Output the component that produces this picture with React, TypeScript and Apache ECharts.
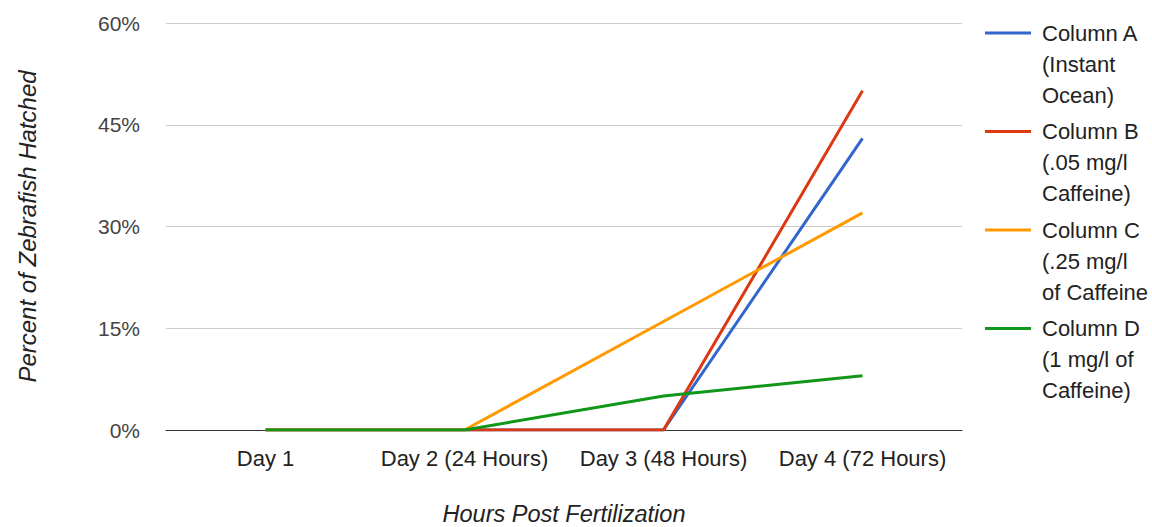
import React, { useEffect, useRef } from "react";
import * as echarts from "echarts";

const categories = ["Day 1", "Day 2 (24 Hours)", "Day 3 (48 Hours)", "Day 4 (72 Hours)"];
const seriesNames = [
  "Column A (Instant Ocean)",
  "Column B (.05 mg/l Caffeine)",
  "Column C (.25 mg/l of Caffeine",
  "Column D (1 mg/l of Caffeine)",
];
const legendLabels = [
  "Column A\n(Instant\nOcean)",
  "Column B\n(.05 mg/l\nCaffeine)",
  "Column C\n(.25 mg/l\nof Caffeine",
  "Column D\n(1 mg/l of\nCaffeine)",
];
const colors = ["#3366cc", "#dc3912", "#ff9900", "#109618"];
const columnA = [0, 0, 0, 43];
const columnB = [0, 0, 0, 50];
const columnC = [0, 0, 16, 32];
const columnD = [0, 0, 5, 8];
const seriesValues = [columnA, columnB, columnC, columnD];
const yTicks = [0, 15, 30, 45, 60];

const FONT = "'Liberation Sans', Arial, sans-serif";

export default function App() {
  const ref = useRef<HTMLDivElement>(null);
  useEffect(() => {
    if (!ref.current) return;
    const chart = echarts.init(ref.current, null, { renderer: "svg" });
    const legendGraphics: any[] = [];
    legendLabels.forEach((label, i) => {
      const y0 = 33 + i * 98.5;
      legendGraphics.push({
        type: "line",
        shape: { x1: 985, y1: y0, x2: 1031, y2: y0 },
        style: { stroke: colors[i], lineWidth: 3 },
      });
      legendGraphics.push({
        type: "text",
        x: 1042,
        y: y0 - 15.5,
        style: {
          text: label,
          fill: "#222",
          font: `22px ${FONT}`,
          lineHeight: 31,
          verticalAlign: "top",
        },
      });
    });
    chart.setOption({
      animation: false,
      textStyle: { fontFamily: FONT },
      grid: { left: 166, right: 190, top: 23, bottom: 97, outerBoundsMode: "none", containLabel: false },
      xAxis: {
        type: "category",
        data: categories,
        boundaryGap: true,
        axisLine: { lineStyle: { color: "#333", width: 1 } },
        axisTick: { show: false },
        axisLabel: { color: "#222", fontSize: 22, margin: 17, interval: 0 },
        name: "Hours Post Fertilization",
        nameLocation: "middle",
        nameGap: 72,
        nameTextStyle: { color: "#222", fontSize: 23.5, fontStyle: "italic" },
      },
      yAxis: {
        type: "value",
        min: yTicks[0],
        max: yTicks[yTicks.length - 1],
        interval: 15,
        axisLine: { show: false },
        axisTick: { show: false },
        splitLine: { lineStyle: { color: "#cccccc", width: 1 } },
        axisLabel: { color: "#444", fontSize: 21, margin: 26, formatter: "{value}%" },
        name: "Percent of Zebrafish Hatched",
        nameLocation: "middle",
        nameGap: 127,
        nameTextStyle: { color: "#222", fontSize: 24, fontStyle: "italic" },
      },
      series: seriesNames.map((name, i) => ({
        name,
        type: "line",
        data: seriesValues[i],
        showSymbol: false,
        symbol: "none",
        lineStyle: { color: colors[i], width: 3 },
        itemStyle: { color: colors[i] },
      })),
      graphic: legendGraphics,
    });
    return () => chart.dispose();
  }, []);
  return <div ref={ref} style={{ width: 1152, height: 527, position: "absolute", left: 0, top: 0 }} />;
}
